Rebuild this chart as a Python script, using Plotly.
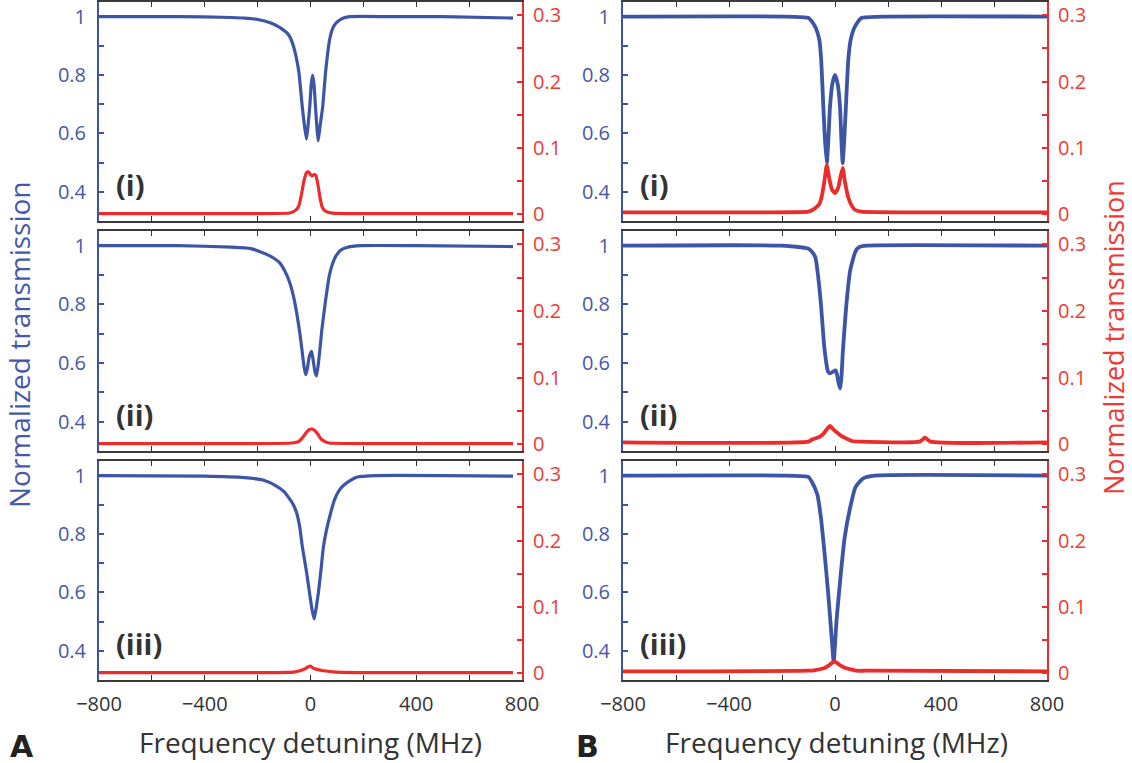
import plotly.graph_objects as go

# ---------------- data ----------------
# Panel A (i)
a1_x_blue = [-800, -500, -300, -250, -200, -150, -120, -100, -85, -75, -65, -55, -44, -31, -22, -15, -9, -3, 3, 8, 13, 19, 25, 29, 34, 40, 46, 57, 65, 72, 80, 90, 105, 125, 150, 300, 500, 766]
a1_blue = [1.0, 1.0, 0.997, 0.995, 0.99, 0.978, 0.965, 0.952, 0.94, 0.925, 0.9, 0.865, 0.81, 0.69, 0.62, 0.58, 0.63, 0.69, 0.77, 0.80, 0.77, 0.69, 0.61, 0.575, 0.61, 0.65, 0.69, 0.81, 0.875, 0.92, 0.95, 0.97, 0.985, 0.995, 1.0, 1.0, 1.0, 0.995]
a1_x_red = [-800, -300, -80, -60, -45, -35, -25, -15, -8, 0, 6, 14, 20, 28, 36, 45, 60, 80, 300, 766]
a1_red = [0.001, 0.001, 0.002, 0.005, 0.012, 0.028, 0.05, 0.063, 0.064, 0.06, 0.058, 0.06, 0.059, 0.045, 0.025, 0.01, 0.004, 0.002, 0.001, 0.001]

# Panel A (ii)
a2_x_blue = [-800, -500, -300, -226, -170, -140, -118, -98, -79, -65, -52, -40, -31, -24, -18, -12, -5, 4, 10, 17, 23, 30, 36, 43, 55, 71, 84, 97, 115, 137, 191, 400, 766]
a2_blue = [1.0, 1.0, 0.995, 0.99, 0.972, 0.958, 0.943, 0.915, 0.875, 0.83, 0.77, 0.70, 0.635, 0.585, 0.56, 0.58, 0.62, 0.64, 0.61, 0.57, 0.556, 0.60, 0.65, 0.714, 0.80, 0.897, 0.94, 0.966, 0.985, 0.994, 1.0, 1.0, 0.997]
a2_x_red = [-800, -300, -70, -45, -30, -15, -5, 5, 15, 28, 40, 55, 70, 300, 766]
a2_red = [0.001, 0.001, 0.002, 0.004, 0.01, 0.018, 0.022, 0.023, 0.021, 0.015, 0.008, 0.004, 0.002, 0.001, 0.001]

# Panel A (iii)
a3_x_blue = [-800, -400, -250, -180, -132, -100, -79, -65, -52, -40, -31, -15, -4, 6, 14, 22, 30, 40, 49, 62, 76, 90, 104, 120, 137, 177, 250, 500, 766]
a3_blue = [1.0, 0.998, 0.993, 0.985, 0.966, 0.945, 0.92, 0.9, 0.871, 0.82, 0.757, 0.67, 0.60, 0.54, 0.509, 0.55, 0.60, 0.68, 0.757, 0.82, 0.871, 0.915, 0.943, 0.962, 0.975, 0.995, 1.0, 1.0, 0.998]
a3_x_red = [-800, -300, -64, -40, -20, -8, 0, 10, 25, 50, 97, 300, 766]
a3_red = [0.001, 0.001, 0.002, 0.004, 0.007, 0.010, 0.011, 0.008, 0.006, 0.004, 0.002, 0.001, 0.001]

# Panel B (i)
b1_x_blue = [-800, -200, -100, -85, -72, -59, -52, -44, -38, -31, -25, -19, -10, 0, 10, 19, 24, 29, 35, 41, 50, 59, 72, 85, 100, 200, 800]
b1_blue = [1.0, 1.0, 0.995, 0.98, 0.96, 0.92, 0.85, 0.69, 0.58, 0.498, 0.58, 0.69, 0.77, 0.80, 0.77, 0.69, 0.58, 0.498, 0.58, 0.69, 0.85, 0.92, 0.96, 0.98, 0.995, 1.0, 1.0]
b1_x_red = [-800, -300, -100, -83, -60, -50, -40, -31, -22, -12, 0, 12, 20, 29, 37, 49, 62, 75, 100, 300, 800]
b1_red = [0.003, 0.003, 0.004, 0.007, 0.015, 0.027, 0.05, 0.074, 0.055, 0.038, 0.032, 0.04, 0.055, 0.070, 0.05, 0.027, 0.014, 0.007, 0.004, 0.003, 0.003]

# Panel B (ii)
b2_x_blue = [-800, -200, -102, -88, -74, -63, -53, -40, -26, -19, -8, 2, 8, 14, 20, 25, 29, 36, 43, 57, 77, 91, 120, 800]
b2_blue = [1.0, 1.0, 0.99, 0.98, 0.96, 0.89, 0.80, 0.65, 0.57, 0.565, 0.57, 0.575, 0.56, 0.53, 0.513, 0.56, 0.63, 0.72, 0.80, 0.914, 0.98, 0.995, 1.0, 1.0]
b2_x_red = [-800, -100, -88, -60, -46, -26, -19, -10, 8, 22, 36, 64, 100, 320, 340, 360, 800]
b2_red = [0.003, 0.004, 0.007, 0.011, 0.015, 0.025, 0.0275, 0.024, 0.0175, 0.013, 0.01, 0.005, 0.004, 0.004, 0.01, 0.004, 0.003]

# Panel B (iii)
b3_x_blue = [-800, -200, -100, -88, -67, -53, -40, -26, -12, -5, 6, 20, 36, 57, 77, 105, 150, 800]
b3_blue = [1.0, 1.0, 0.995, 0.98, 0.936, 0.855, 0.74, 0.60, 0.438, 0.362, 0.507, 0.646, 0.785, 0.89, 0.96, 0.99, 1.0, 1.0]
b3_x_red = [-800, -100, -74, -40, -20, -2, 10, 20, 40, 60, 80, 120, 800]
b3_red = [0.003, 0.004, 0.005, 0.008, 0.013, 0.018, 0.015, 0.012, 0.008, 0.006, 0.004, 0.004, 0.003]

panel_labels = ["(i)", "(ii)", "(iii)"]
x_tick_vals = [-800, -400, 0, 400, 800]
x_tick_text = ["\u2212800", "\u2212400", "0", "400", "800"]
left_tick_vals = [0.4, 0.6, 0.8, 1.0]
left_tick_text = ["0.4", "0.6", "0.8", "1"]
right_tick_vals = [0, 0.1, 0.2, 0.3]
right_tick_text = ["0", "0.1", "0.2", "0.3"]
y_title = "Normalized transmission"
x_title = "Frequency detuning (MHz)"

panels = [
    # (col, row, xb, yb, xr, yr)
    (0, 0, a1_x_blue, a1_blue, a1_x_red, a1_red),
    (0, 1, a2_x_blue, a2_blue, a2_x_red, a2_red),
    (0, 2, a3_x_blue, a3_blue, a3_x_red, a3_red),
    (1, 0, b1_x_blue, b1_blue, b1_x_red, b1_red),
    (1, 1, b2_x_blue, b2_blue, b2_x_red, b2_red),
    (1, 2, b3_x_blue, b3_blue, b3_x_red, b3_red),
]

# ---------------- styling / geometry ----------------
W, H = 1132, 763
BLUE = "#3d55a6"
BLUE_TXT = "#4658aa"
RED = "#ec2b2b"
RED_TXT = "#ee3a33"
DARK = "#333333"
FONT = "Open Sans"

col_px = [(99, 522), (623, 1047)]
row_px = [(2, 221), (231, 451), (461, 680)]

def px_x(p):
    return p / W

def px_y(p):
    return 1 - p / H

def xdom(c):
    return [px_x(col_px[c][0]), px_x(col_px[c][1])]

def ydom(r):
    return [px_y(row_px[r][1]), px_y(row_px[r][0])]

fig = go.Figure()
layout = dict(
    width=W, height=H,
    margin=dict(l=0, r=0, t=0, b=0, autoexpand=False),
    paper_bgcolor="white", plot_bgcolor="white",
    showlegend=False,
    font=dict(family=FONT, size=20, color=DARK),
)

annotations = []
for i, (c, r, xb, yb, xr, yr) in enumerate(panels):
    xn = i + 1
    yl = 2 * i + 1
    yr_n = 2 * i + 2
    lw = 3.2 if c == 0 else 3.8
    fig.add_trace(go.Scatter(x=xb, y=yb, mode="lines", line=dict(color=BLUE, width=lw, shape="spline", smoothing=0.5),
                             xaxis=f"x{xn}", yaxis=f"y{yl}", hoverinfo="skip"))
    fig.add_trace(go.Scatter(x=xr, y=yr, mode="lines", line=dict(color=RED, width=lw, shape="spline", smoothing=0.5),
                             xaxis=f"x{xn}", yaxis=f"y{yr_n}", hoverinfo="skip"))
    layout[f"xaxis{xn}"] = dict(
        domain=xdom(c), anchor=f"y{yl}", range=[-800, 800], automargin=False,
        showgrid=False, zeroline=False,
        showline=True, linecolor="#3a3a3a", linewidth=2, mirror="ticks",
        ticks="inside", ticklen=5, tickwidth=1.2, tickcolor="#333",
        tickvals=x_tick_vals, ticktext=x_tick_text,
        minor=dict(tickvals=[-600, -200, 200, 600], ticks="inside", ticklen=5, tickwidth=1.2, tickcolor="#333"),
        showticklabels=(r == 2),
        tickfont=dict(family=FONT, size=20, color=DARK),
        ticklabelstandoff=5, ticklabeloverflow="allow",
    )
    layout[f"yaxis{yl}"] = dict(
        domain=ydom(r), anchor=f"x{xn}", range=[0.3, 1.05], automargin=False,
        showgrid=False, zeroline=False,
        showline=True, linecolor=BLUE, linewidth=2,
        ticks="inside", ticklen=5, tickwidth=1.5, tickcolor=BLUE,
        tickvals=left_tick_vals, ticktext=left_tick_text,
        minor=dict(tickvals=[0.5, 0.7, 0.9], ticks="inside", ticklen=5, tickwidth=1.5, tickcolor=BLUE),
        tickfont=dict(family=FONT, size=20, color=BLUE_TXT),
        ticklabelstandoff=7, ticklabeloverflow="allow",
    )
    layout[f"yaxis{yr_n}"] = dict(
        overlaying=f"y{yl}", side="right", anchor=f"x{xn}", range=[-0.01, 0.32], automargin=False,
        showgrid=False, zeroline=False,
        showline=True, linecolor=RED, linewidth=2,
        ticks="inside", ticklen=5, tickwidth=1.5, tickcolor=RED,
        tickvals=right_tick_vals, ticktext=right_tick_text,
        minor=dict(tickvals=[0.05, 0.15, 0.25], ticks="inside", ticklen=5, tickwidth=1.5, tickcolor=RED),
        tickfont=dict(family=FONT, size=20, color=RED_TXT),
        ticklabelstandoff=5, ticklabeloverflow="allow",
    )
    annotations.append(dict(
        x=-745, y=0.425, xref=f"x{xn}", yref=f"y{yl}", text=f"<b>{panel_labels[r]}</b>",
        showarrow=False, xanchor="left", yanchor="middle",
        font=dict(family=FONT, size=29, color=DARK),
    ))

# axis titles and panel letters
annotations += [
    dict(x=px_x(19), y=px_y(345), xref="paper", yref="paper", text=y_title, textangle=-90,
         xanchor="center", yanchor="middle",
         showarrow=False, font=dict(family=FONT, size=28, color=BLUE_TXT)),
    dict(x=px_x(1113), y=px_y(338), xref="paper", yref="paper", text=y_title, textangle=-90,
         xanchor="center", yanchor="middle",
         showarrow=False, font=dict(family=FONT, size=27, color=RED_TXT)),
    dict(x=px_x(310), y=px_y(742), xref="paper", yref="paper", text=x_title,
         xanchor="center", yanchor="middle",
         showarrow=False, font=dict(family=FONT, size=28, color=DARK)),
    dict(x=px_x(836), y=px_y(742), xref="paper", yref="paper", text=x_title,
         xanchor="center", yanchor="middle",
         showarrow=False, font=dict(family=FONT, size=28, color=DARK)),
    dict(x=px_x(22), y=px_y(746), xref="paper", yref="paper", text="<b>A</b>",
         xanchor="center", yanchor="middle",
         showarrow=False, font=dict(family="DejaVu Sans", size=30, color="#222")),
    dict(x=px_x(587), y=px_y(746), xref="paper", yref="paper", text="<b>B</b>",
         xanchor="center", yanchor="middle",
         showarrow=False, font=dict(family="DejaVu Sans", size=30, color="#222")),
]
layout["annotations"] = annotations
fig.update_layout(**layout)
fig.write_html(
    "out.html",
    config={"displayModeBar": False},
    post_script="document.body.style.margin='0';document.body.style.overflow='hidden';",
)
